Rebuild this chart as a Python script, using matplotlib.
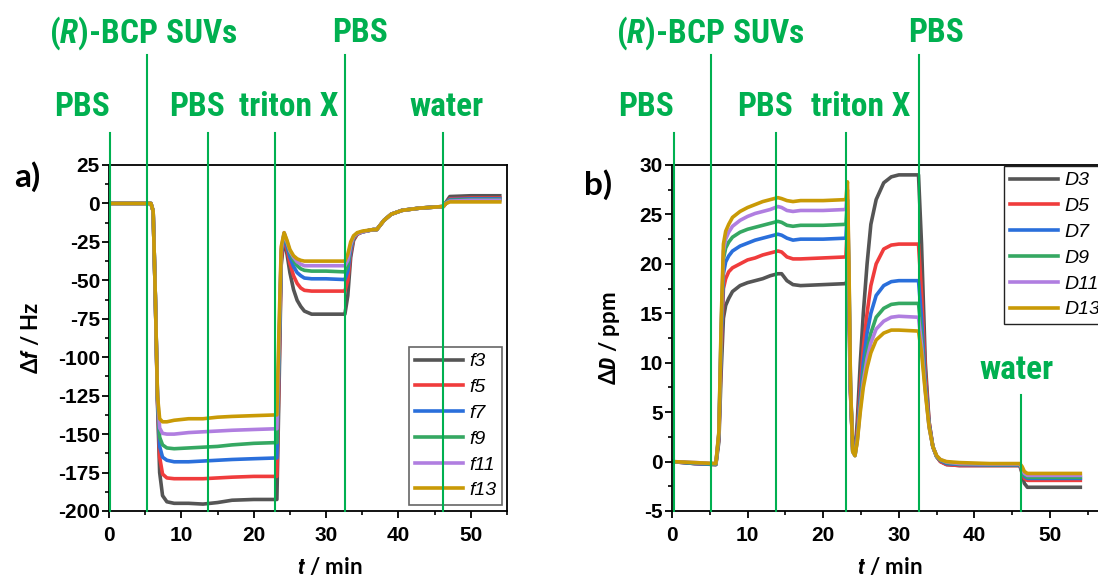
import matplotlib
matplotlib.use("Agg")
import matplotlib.pyplot as plt
import matplotlib.transforms as mtransforms
from matplotlib.ticker import MultipleLocator

# ---------------------------------------------------------------- data
# Frequency shifts (overtones 3..13) versus time
t_f = [0, 5.8, 6.1, 6.4, 6.7, 7.0, 7.4, 8.0, 9.0, 11, 13, 15, 17, 20, 23.2,
       23.5, 23.8, 24.2, 24.6, 25.0, 25.5, 26.0, 26.5, 27.0, 28.0, 30.0,
       32.6, 33.0, 33.4, 33.8, 34.3, 35.0, 36.5, 37.0, 38.0, 39.0, 40.5,
       43.0, 46.2, 46.6, 47.1, 50, 54]
f3 = [0, 0, -5, -60, -130, -175, -190, -194, -195, -195, -195.5, -194.5,
      -193, -192.5, -192.5, -120, -40, -22, -33, -45, -56, -63, -67, -70,
      -72, -72, -72, -60, -35, -24, -20, -18.5, -17, -17, -11, -7, -4.5,
      -3, -2, 1, 4.5, 5, 5]
f5 = [0, 0, -5, -60, -128, -165, -176, -178.5, -179, -179, -179, -178.5,
      -178, -177.5, -177.5, -110, -36, -21, -30, -39, -47, -52, -55, -56.5,
      -57, -57, -57, -50, -32, -23, -20, -18.5, -17, -17, -11, -7, -4.5,
      -3, -2, 0.5, 3, 3.5, 3.5]
f7 = [0, 0, -5, -60, -127, -158, -165, -167, -168, -168, -167.5, -167,
      -166.5, -166, -165.5, -100, -33, -20, -28, -35, -41, -45, -47, -48.5,
      -49, -49, -49.5, -44, -30, -22, -19.5, -18.5, -17, -17, -11, -7, -4.5,
      -3, -2, 0.5, 2.5, 3, 3]
f9 = [0, 0, -5, -60, -126, -152, -157, -159, -159.5, -159, -158.5, -158,
      -157, -156, -155.5, -95, -31, -19.5, -26, -32, -37, -40.5, -42.5,
      -43.5, -44, -44, -44.5, -40, -28, -22, -19.5, -18.5, -17, -17, -11,
      -7, -4.5, -3, -2, 0.5, 2, 2.5, 2.5]
f11 = [0, 0, -5, -60, -125, -146, -149.5, -150, -150, -149, -148.5, -148,
       -147.5, -147, -146.5, -88, -30, -19, -25, -31, -35, -38, -39.5, -40.5,
       -40.5, -40.5, -40.5, -37, -27, -21.5, -19.5, -18.5, -17, -17, -11, -7,
       -4.5, -3, -2, 0.2, 1.5, 2, 2]
f13 = [0, 0, -5, -60, -125, -140, -142, -142, -141, -140, -140, -139,
       -138.5, -138, -137.5, -80, -28, -19, -24, -30, -34, -36, -37, -37.5,
       -37.5, -37.5, -37.5, -33, -25, -21, -19, -18, -17, -17, -11, -7, -4.5,
       -3, -2, 0, 1, 1, 1]

# Dissipation shifts (overtones 3..13) versus time
t_d = [0, 3, 5.8, 6.2, 6.5, 6.8, 7.1, 7.5, 8.0, 9, 10, 11, 12, 13, 14, 14.5,
       15.2, 16, 17, 20, 23.0, 23.2, 23.4, 23.6, 23.9, 24.2, 24.5, 24.9,
       25.3, 25.8, 26.3, 27, 28, 29, 30, 32.6, 33.0, 33.5, 34.0, 34.5, 35.0,
       35.5, 36.3, 38, 42, 46.0, 46.3, 46.6, 47.0, 50, 54]
D3 = [0, -0.2, -0.3, 2, 9, 14.5, 15.8, 16.5, 17.2, 17.8, 18.1, 18.3, 18.5,
      18.8, 19, 19, 18.3, 17.9, 17.8, 17.9, 18, 18.5, 15, 7, 1.5, 1, 4, 10,
      15, 20, 24, 26.5, 28.2, 28.8, 29, 29, 22, 10, 4, 1.5, 0.5, 0, -0.3,
      -0.4, -0.4, -0.4, -1.2, -2.2, -2.6, -2.6, -2.6]
D5 = [0, -0.2, -0.3, 2.5, 11, 17.5, 18.5, 19.2, 19.6, 20, 20.4, 20.6, 20.9,
      21.1, 21.3, 21.2, 20.7, 20.5, 20.5, 20.6, 20.7, 24, 17, 7, 1.2, 0.8, 3,
      7.5, 11.5, 15, 17.8, 20, 21.5, 21.9, 22, 22, 17, 9, 4, 1.5, 0.5, 0,
      -0.3, -0.4, -0.4, -0.4, -1, -1.7, -1.9, -1.9, -1.9]
D7 = [0, -0.2, -0.3, 2.7, 12, 19, 20.2, 20.8, 21.3, 21.8, 22.1, 22.4, 22.6,
      22.8, 23, 22.9, 22.6, 22.4, 22.5, 22.5, 22.6, 25.5, 18, 7.5, 1.1, 0.7,
      2.5, 6.5, 10, 13, 15, 16.8, 17.8, 18.2, 18.3, 18.3, 14.5, 8, 3.8, 1.5,
      0.5, 0.1, -0.2, -0.3, -0.35, -0.35, -0.9, -1.5, -1.7, -1.7, -1.7]
D9 = [0, -0.15, -0.25, 2.8, 13, 20.5, 21.6, 22.2, 22.7, 23.2, 23.5, 23.7,
      23.9, 24.1, 24.3, 24.2, 23.9, 23.8, 23.9, 23.9, 24, 26.5, 19, 7.8, 1,
      0.6, 2.2, 5.8, 8.8, 11.3, 13, 14.6, 15.5, 15.9, 16, 16, 12.8, 7.5, 3.6,
      1.5, 0.5, 0.15, -0.1, -0.25, -0.3, -0.3, -0.8, -1.4, -1.6, -1.6, -1.6]
D11 = [0, -0.1, -0.2, 2.9, 13.5, 21.3, 22.5, 23.2, 23.8, 24.4, 24.8, 25.1,
       25.3, 25.5, 25.8, 25.7, 25.4, 25.3, 25.4, 25.4, 25.5, 27.5, 19.5, 7.9,
       1, 0.6, 2.1, 5.4, 8.1, 10.4, 12, 13.4, 14.2, 14.6, 14.7, 14.6, 11.8,
       7.2, 3.5, 1.5, 0.55, 0.2, -0.05, -0.2, -0.25, -0.25, -0.7, -1.2, -1.4,
       -1.4, -1.4]
D13 = [0, -0.1, -0.2, 3, 14, 22, 23.3, 24, 24.7, 25.3, 25.7, 26, 26.3, 26.5,
       26.7, 26.6, 26.4, 26.3, 26.4, 26.4, 26.5, 28.3, 20, 8, 1, 0.6, 2, 5,
       7.5, 9.5, 11, 12.3, 13, 13.3, 13.3, 13.2, 11, 7, 3.5, 1.5, 0.6, 0.2, 0,
       -0.1, -0.2, -0.2, -0.5, -1.0, -1.2, -1.2, -1.2]

overtones = ["3", "5", "7", "9", "11", "13"]
colors = ["#555555", "#f03c3c", "#2a6fdb", "#35a862", "#b07ee0", "#c99a06"]

# Injection times (min) and the solution introduced
event_times = [0.2, 5.2, 13.7, 23.0, 32.6, 46.1]
event_labels = ["PBS", "(R)-BCP SUVs", "PBS", "triton X", "PBS", "water"]

# ---------------------------------------------------------------- style
plt.rcParams["font.family"] = ["Liberation Sans", "DejaVu Sans"]
plt.rcParams["axes.unicode_minus"] = False
plt.rcParams["mathtext.fontset"] = "custom"
plt.rcParams["mathtext.it"] = "Roboto Condensed:italic:bold"
plt.rcParams["mathtext.rm"] = "Roboto Condensed:bold"
plt.rcParams["mathtext.bf"] = "Roboto Condensed:bold"

GREEN = "#00b050"
COND = ["Roboto Condensed", "DejaVu Sans"]
LABEL_FONT = ["Lato", "DejaVu Sans"]

fig = plt.figure(figsize=(10.98, 5.76), dpi=100)

W, H = 1098.0, 576.0
ax_bottom_px, ax_top_px = 511.0, 165.0
ax_h = ax_bottom_px - ax_top_px
axa = fig.add_axes([109 / W, 1 - ax_bottom_px / H, 398 / W, ax_h / H])
axb = fig.add_axes([672 / W, 1 - ax_bottom_px / H, 431 / W, ax_h / H])


def style_axes(ax):
    for s in ax.spines.values():
        s.set_linewidth(1.3)
        s.set_color("black")
    ax.tick_params(which="major", direction="out", length=5, width=1.3,
                   labelsize=15)
    ax.tick_params(axis="x", which="major", pad=6)
    ax.tick_params(axis="y", which="major", pad=1.5)
    ax.tick_params(which="minor", direction="out", length=3, width=1.2)
    for lab in ax.get_xticklabels() + ax.get_yticklabels():
        lab.set_fontweight("bold")
    ax.xaxis.set_major_locator(MultipleLocator(10))
    ax.xaxis.set_minor_locator(MultipleLocator(5))


def draw_events(ax, tops, label_specs):
    trans = mtransforms.blended_transform_factory(ax.transData, ax.transAxes)
    for x, top in zip(event_times, tops):
        ax.plot([x, x], [0, top], color=GREEN, lw=1.5, transform=trans,
                clip_on=False, zorder=10)
    for text, x, y in label_specs:
        ax.text(x, y, text, transform=trans, color=GREEN, fontsize=24,
                fontweight="bold", family=COND, ha="center", va="center",
                clip_on=False)


def style_legend(leg, edge, lw):
    frame = leg.get_frame()
    frame.set_linewidth(lw)
    frame.set_edgecolor(edge)
    for txt in leg.get_texts():
        txt.set_fontstyle("italic")
        txt.set_fontweight("normal")


# ---------------------------------------------------------------- panel a
for name, vals, c in zip(overtones, [f3, f5, f7, f9, f11, f13], colors):
    axa.plot(t_f, vals, color=c, lw=2.6, label="f" + name,
             solid_joinstyle="round")
axa.set_xlim(0, 55)
axa.set_ylim(-200, 25)
axa.yaxis.set_major_locator(MultipleLocator(25))
axa.yaxis.set_minor_locator(MultipleLocator(12.5))
style_axes(axa)

row1, row2 = 1.382, 1.168
draw_events(axa, [1.0925, 1.318, 1.0925, 1.0925, 1.318, 1.0925],
            [("PBS", -3.7, row2),
             (r"($\mathit{R}$)-BCP SUVs", 4.8, row1),
             ("PBS", 12.1, row2),
             ("triton X", 24.9, row2),
             ("PBS", 34.7, row1),
             ("water", 46.6, row2)])

lega = axa.legend(loc="lower right", bbox_to_anchor=(0.988, 0.017),
                  fontsize=14, frameon=True, fancybox=False, framealpha=1,
                  handlelength=2.5, handletextpad=0.3, labelspacing=0.42,
                  borderpad=0.3, borderaxespad=0)
style_legend(lega, "#666666", 1.2)

axa.set_ylabel("Δ$\\mathit{f}$ / Hz", fontsize=16, fontweight="bold",
               family=LABEL_FONT)
axa.yaxis.set_label_coords(-(109 - 42) / 398, 0.5)
axa.set_xlabel("$\\mathit{t}$ / min", fontsize=16, fontweight="bold",
               family=LABEL_FONT)
axa.xaxis.set_label_coords((330 - 109) / 398, -(556 - 511) / ax_h)
fig.text(27 / W, 1 - 177 / H, "a)", fontsize=24, fontweight="bold",
         family=LABEL_FONT, ha="center", va="center")

# ---------------------------------------------------------------- panel b
for name, vals, c in zip(overtones, [D3, D5, D7, D9, D11, D13], colors):
    axb.plot(t_d, vals, color=c, lw=2.6, label="D" + name,
             solid_joinstyle="round")
axb.set_xlim(0, 57)
axb.set_ylim(-5, 30)
axb.yaxis.set_major_locator(MultipleLocator(5))
axb.yaxis.set_minor_locator(MultipleLocator(2.5))
style_axes(axb)

draw_events(axb, [1.0925, 1.318, 1.0925, 1.0925, 1.318, 0.335],
            [("PBS", -3.4, row2),
             (r"($\mathit{R}$)-BCP SUVs", 5.0, row1),
             ("PBS", 12.3, row2),
             ("triton X", 25.0, row2),
             ("PBS", 34.9, row1),
             ("water", 45.6, 0.4075)])

legb = axb.legend(loc="upper left", bbox_to_anchor=((1004 - 672) / 431, 0.997),
                  fontsize=14, frameon=True, fancybox=False, framealpha=1,
                  handlelength=2.5, handletextpad=0.3, labelspacing=0.42,
                  borderpad=0.3, borderaxespad=0)
style_legend(legb, "#222222", 1.0)

axb.set_ylabel("Δ$\\mathit{D}$ / ppm", fontsize=16, fontweight="bold",
               family=LABEL_FONT)
axb.yaxis.set_label_coords(-(672 - 622) / 431, 0.5)
axb.set_xlabel("$\\mathit{t}$ / min", fontsize=16, fontweight="bold",
               family=LABEL_FONT)
axb.xaxis.set_label_coords((890 - 672) / 431, -(556 - 511) / ax_h)
fig.text(598 / W, 1 - 185 / H, "b)", fontsize=24, fontweight="bold",
         family=LABEL_FONT, ha="center", va="center")

fig.savefig("out.png", dpi=100)
